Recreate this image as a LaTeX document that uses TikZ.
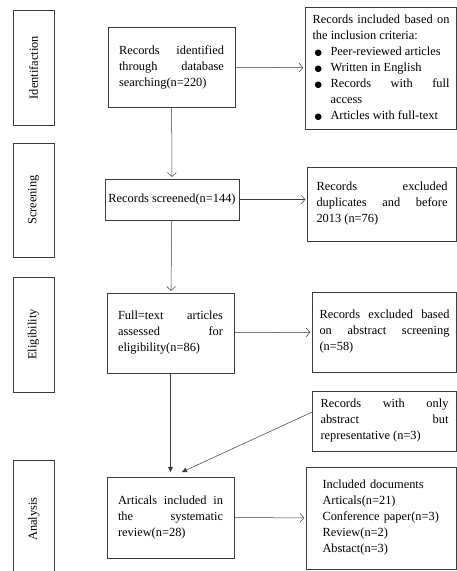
\documentclass[tikz,border=0pt]{standalone}
\usepackage{fontspec}
\setmainfont{Liberation Serif}
\newfontfamily\symfont{DejaVu Sans}
\usetikzlibrary{arrows.meta, positioning}
\definecolor{edgegray}{HTML}{3C3C3C}
\newcommand{\crit}[1]{\par\hangindent=18pt\hangafter=1\noindent\makebox[18pt][l]{\hspace{2pt}\symfont\fontsize{8.5}{8}\selectfont ●}#1}

\begin{document}
\begin{tikzpicture}[x=1pt, y=-1pt, font=\fontsize{12.4}{16}\selectfont,
    execute at begin node={\hyphenpenalty=10000\exhyphenpenalty=10000\tolerance=9999},
    phase/.style={draw=edgegray, rotate=90, minimum height=41pt, inner sep=0pt},
    stage/.style={draw=edgegray, text width=105pt, inner xsep=11pt, minimum height=80pt, align=justify},
    note/.style={draw=edgegray, inner xsep=7pt, align=justify},
    flow/.style={draw=edgegray, line width=0.5pt, -{Straight Barb[length=4pt,width=9pt]}, shorten >=2pt},
    merge/.style={draw=edgegray, line width=0.5pt, -{Triangle[length=5pt,width=5pt]}}]
  \useasboundingbox (0,0) rectangle (457,571);
  % phases on the left
  \node[phase, minimum width=115pt] (idf) at (33.5,67.5) {Identifaction};
  \node[phase, minimum width=114pt] (scr) at (33.5,200) {Screening};
  \node[phase, minimum width=115pt] (elg) at (33.5,334.5) {Eligibility};
  \node[phase, minimum width=118pt] (ana) at (34,519) {Analysis};
  % main column
  \node[stage] (ident) at (171.5,67) {Records identified\linebreak through database\linebreak searching(n=220)};
  \node[draw=edgegray, minimum width=134pt, minimum height=41pt, inner sep=1pt] (scrn) at (172,199.5) {Records screened(n=144)};
  \node[stage] (full) at (170.5,333) {Full=text articles\linebreak assessed for\linebreak eligibility(n=86)};
  \node[stage, minimum height=81pt] (incl) at (170.5,517.5) {Articals included in\linebreak the systematic\linebreak review(n=28)};
  % right column
  \node[note, text width=137pt, minimum height=122pt] (crit) at (381,68) {Records included based on\linebreak the inclusion criteria:
    \crit{Peer-reviewed articles}\crit{Written in English}\crit{Records with full\linebreak access}\crit{Articles with full-text}};
  \node[note, text width=131pt, inner xsep=9pt, minimum height=74pt] (dupl) at (382,204) {Records excluded\linebreak duplicates and before\linebreak 2013 (n=76)};
  \node[note, text width=130pt, minimum height=80pt] (abst) at (384.5,332) {Records excluded based\linebreak on abstract screening\linebreak (n=58)};
  \node[note, text width=128pt, inner xsep=8pt, minimum height=60pt] (only) at (384.5,421) {Records with only\linebreak abstract but\linebreak representative (n=3)};
  \node[note, text width=118pt, inner xsep=16pt, align=left, minimum height=102pt] (docs) at (381.5,518) {Included documents\\Articals(n=21)\\Conference paper(n=3)\\Review(n=2)\\Abstact(n=3)};
  \coordinate (meet) at (182,472);
  % arrows
  \draw[flow] (ident) -- (crit);
  \draw[flow] (ident) -- (scrn);
  \draw[flow] (scrn.east) -- (scrn.east -| dupl.west);
  \draw[flow] (scrn) -- (full);
  \draw[flow] (full) -- (abst);
  \draw[merge, shorten >=5pt] (full) -- (incl);
  \draw[merge] ([yshift=9pt]only.west) -- (meet);
  \draw[flow] (incl) -- (docs);
\end{tikzpicture}
\end{document}
